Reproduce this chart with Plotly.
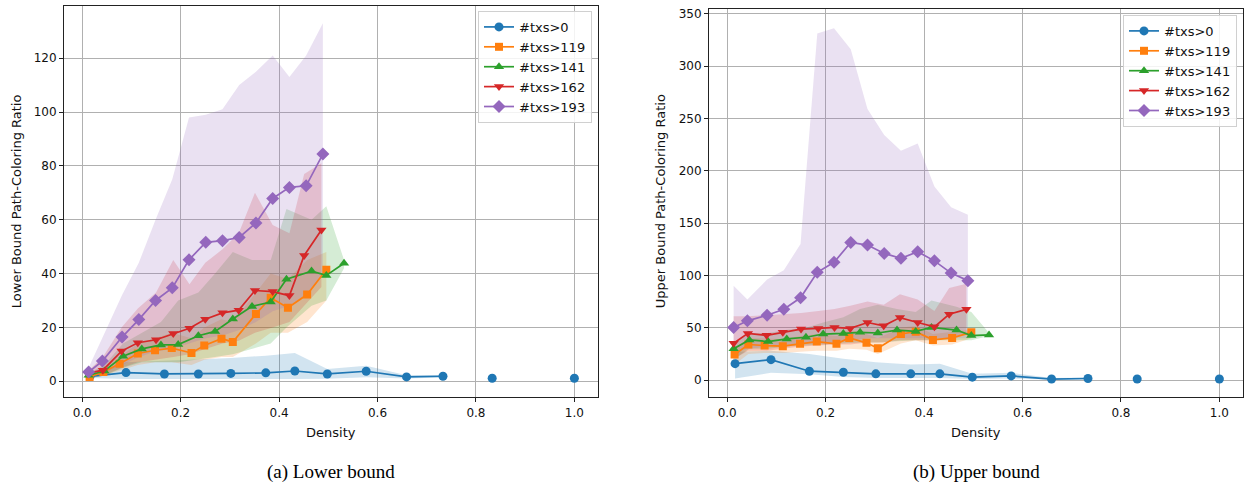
import plotly.graph_objects as go

# ---------------- data ----------------
SERIES = ["#txs>0", "#txs>119", "#txs>141", "#txs>162", "#txs>193"]
COLORS = ["#1f77b4", "#ff7f0e", "#2ca02c", "#d62728", "#9467bd"]
FILLS = ["rgba(31,119,180,0.2)", "rgba(255,127,14,0.2)", "rgba(44,160,44,0.2)",
         "rgba(214,39,40,0.2)", "rgba(148,103,189,0.2)"]
SYMBOLS = ["circle", "square", "triangle-up", "triangle-down", "diamond"]
SIZES = [9, 8, 9, 9, 10]

X_TICKS = [0.0, 0.2, 0.4, 0.6, 0.8, 1.0]
X_TICK_TEXT = ["0.0", "0.2", "0.4", "0.6", "0.8", "1.0"]
Y_TICKS_LOWER = [0, 20, 40, 60, 80, 100, 120]
Y_TICKS_UPPER = [0, 50, 100, 150, 200, 250, 300, 350]

# density bins of each series (None = no samples between neighbours)
dens_0 = [0.016, 0.089, 0.167, 0.236, 0.302, 0.373, 0.432, 0.498, 0.577, 0.659, 0.733, None, 0.833, None, 1.0]
dens_119 = [0.015, 0.043, 0.076, 0.113, 0.148, 0.182, 0.222, 0.248, 0.283, 0.306, 0.353, 0.383, 0.418, 0.457, 0.496]
dens_141 = [0.013, 0.045, 0.083, 0.121, 0.160, 0.195, 0.236, 0.270, 0.306, 0.345, 0.383, 0.415, 0.466, 0.496, 0.532]
dens_162 = [0.013, 0.042, 0.080, 0.113, 0.150, 0.185, 0.218, 0.250, 0.285, 0.318, 0.351, 0.387, 0.421, 0.451, 0.486]
dens_193 = [0.013, 0.041, 0.081, 0.115, 0.149, 0.183, 0.217, 0.251, 0.285, 0.319, 0.353, 0.387, 0.421, 0.455, 0.489]

# ----- lower bound ratio: mean, band low, band high -----
lb_mean_0 = [1.8, 3.2, 2.7, 2.7, 2.9, 3.1, 3.8, 2.7, 3.7, 1.6, 1.85, None, 1.1, None, 1.1]
lb_lo_0 = [1.2, 0.8, 0.8, 0.8, 0.8, 0.8, 0.8, 0.9, 1.5, 1.0, 1.4, None, None, None, None]
lb_hi_0 = [2.3, 7.0, 7.6, 8.0, 8.6, 9.5, 10.5, 4.5, 5.7, 2.2, 2.3, None, None, None, None]

lb_mean_119 = [1.6, 3.4, 6.5, 10.3, 11.5, 12.3, 10.5, 13.3, 15.8, 14.6, 25.0, 31.0, 27.3, 32.2, 41.4]
lb_lo_119 = [1.0, 2.0, 4.0, 6.0, 7.0, 7.0, 6.0, 8.0, 9.0, 9.0, 14.0, 18.0, 18.0, 22.0, 30.0]
lb_hi_119 = [2.5, 5.0, 9.0, 14.0, 16.0, 18.0, 16.0, 20.0, 23.0, 22.0, 33.0, 40.0, 38.0, 45.0, 48.0]

lb_mean_141 = [2.2, 3.8, 9.3, 12.0, 13.5, 13.6, 16.9, 18.5, 23.1, 27.8, 29.4, 37.9, 40.9, 39.3, 43.8]
lb_lo_141 = [1.5, 2.0, 5.0, 7.0, 7.0, 7.0, 8.0, 9.0, 10.0, 12.0, 14.0, 20.0, 28.0, 30.0, 42.0]
lb_hi_141 = [3.0, 6.0, 14.0, 18.0, 22.0, 30.0, 33.0, 40.0, 48.0, 45.0, 45.0, 64.0, 60.0, 65.0, 45.0]

lb_mean_162 = [3.0, 4.1, 11.2, 14.3, 15.4, 17.7, 19.7, 23.0, 25.4, 26.4, 33.7, 33.3, 31.8, 46.7, 56.2]
lb_lo_162 = [2.0, 2.0, 5.0, 7.0, 8.0, 9.0, 10.0, 12.0, 14.0, 15.0, 18.0, 20.0, 22.0, 28.0, 35.0]
lb_hi_162 = [4.0, 9.0, 20.0, 27.0, 33.0, 45.0, 36.0, 44.0, 49.0, 55.0, 70.0, 58.0, 55.0, 77.0, 81.0]

lb_mean_193 = [3.4, 7.5, 16.4, 22.9, 30.0, 34.7, 45.1, 51.6, 52.2, 53.4, 58.8, 67.9, 72.0, 72.6, 84.4]
lb_lo_193 = [2.0, 3.0, 6.0, 9.0, 11.0, 12.0, 14.0, 16.0, 17.0, 19.0, 22.0, 26.0, 28.0, 32.0, 40.0]
lb_hi_193 = [5.0, 16.0, 32.0, 44.0, 60.0, 75.0, 98.0, 99.0, 101.0, 110.0, 115.0, 121.0, 113.0, 121.0, 133.0]

# ----- upper bound ratio -----
ub_mean_0 = [15.7, 19.5, 8.5, 7.5, 6.0, 6.0, 6.0, 2.8, 4.0, 1.0, 1.5, None, 1.0, None, 1.0]
ub_lo_0 = [1.5, 7.0, 5.5, 3.0, 2.0, 2.0, 2.0, 1.0, 1.5, 0.5, 0.8, None, None, None, None]
ub_hi_0 = [27.0, 28.0, 25.0, 20.5, 17.0, 15.0, 15.7, 6.0, 7.0, 2.0, 2.5, None, None, None, None]

ub_mean_119 = [24.5, 34.0, 33.0, 32.4, 34.6, 36.8, 34.6, 40.3, 35.6, 30.5, 44.0, 46.2, 38.4, 40.3, 45.6]
ub_lo_119 = [15.0, 25.0, 26.0, 26.0, 27.0, 28.0, 28.0, 30.0, 29.0, 25.0, 35.0, 38.0, 33.0, 34.0, 40.0]
ub_hi_119 = [30.0, 40.0, 40.0, 39.0, 42.0, 44.0, 42.0, 48.0, 44.0, 40.0, 50.0, 52.0, 44.0, 46.0, 48.0]

ub_mean_141 = [29.9, 38.4, 36.8, 39.3, 40.9, 44.0, 44.6, 45.6, 45.0, 47.8, 46.5, 50.3, 47.8, 42.5, 43.1]
ub_lo_141 = [20.0, 30.0, 30.0, 32.0, 33.0, 34.0, 35.0, 36.0, 36.0, 37.0, 38.0, 38.0, 38.0, 38.0, 42.0]
ub_hi_141 = [35.0, 45.0, 45.0, 48.0, 50.0, 55.0, 60.0, 68.0, 72.0, 68.0, 65.0, 76.0, 70.0, 65.0, 45.0]

ub_mean_162 = [35.2, 44.6, 42.8, 45.6, 48.7, 49.4, 50.3, 49.4, 55.0, 51.9, 59.7, 55.0, 50.9, 62.9, 67.6]
ub_lo_162 = [20.0, 28.0, 28.0, 30.0, 32.0, 33.0, 34.0, 34.0, 36.0, 36.0, 38.0, 38.0, 38.0, 40.0, 45.0]
ub_hi_162 = [61.0, 61.0, 62.0, 63.0, 64.0, 66.0, 68.0, 71.0, 75.0, 72.0, 82.0, 77.0, 66.0, 88.0, 92.0]

ub_mean_193 = [50.3, 56.6, 62.0, 67.6, 78.6, 103.0, 112.5, 131.4, 129.0, 121.0, 116.3, 122.6, 113.9, 102.2, 95.0]
ub_lo_193 = [25.0, 30.0, 32.0, 33.0, 35.0, 35.0, 35.0, 38.0, 40.0, 40.0, 40.0, 40.0, 40.0, 40.0, 40.0]
ub_hi_193 = [90.0, 77.0, 96.0, 105.0, 130.0, 331.0, 336.0, 316.0, 259.0, 234.0, 219.0, 226.0, 185.0, 165.0, 158.0]

DENS = [dens_0, dens_119, dens_141, dens_162, dens_193]
LOWER = [(lb_mean_0, lb_lo_0, lb_hi_0), (lb_mean_119, lb_lo_119, lb_hi_119),
         (lb_mean_141, lb_lo_141, lb_hi_141), (lb_mean_162, lb_lo_162, lb_hi_162),
         (lb_mean_193, lb_lo_193, lb_hi_193)]
UPPER = [(ub_mean_0, ub_lo_0, ub_hi_0), (ub_mean_119, ub_lo_119, ub_hi_119),
         (ub_mean_141, ub_lo_141, ub_hi_141), (ub_mean_162, ub_lo_162, ub_hi_162),
         (ub_mean_193, ub_lo_193, ub_hi_193)]

# ---------------- figure ----------------
fig = go.Figure()


def band_polygon(xs, lo, hi):
    pts = [(x, l, h) for x, l, h in zip(xs, lo, hi) if x is not None and l is not None and h is not None]
    px = [p[0] for p in pts] + [p[0] for p in reversed(pts)]
    py = [p[2] for p in pts] + [p[1] for p in reversed(pts)]
    return px, py


def add_panel(stats, xref, yref, legend):
    # shaded spread first, then the mean lines on top
    for i, (mean, lo, hi) in enumerate(stats):
        px, py = band_polygon(DENS[i], lo, hi)
        fig.add_trace(go.Scatter(x=px, y=py, fill="toself", fillcolor=FILLS[i],
                                 line=dict(width=0), mode="lines", hoverinfo="skip",
                                 showlegend=False, xaxis=xref, yaxis=yref))
    for i, (mean, lo, hi) in enumerate(stats):
        fig.add_trace(go.Scatter(x=DENS[i], y=mean, name=SERIES[i], mode="lines+markers",
                                 line=dict(color=COLORS[i], width=1.7),
                                 marker=dict(symbol=SYMBOLS[i], size=SIZES[i], color=COLORS[i]),
                                 connectgaps=False, xaxis=xref, yaxis=yref, legend=legend))


add_panel(LOWER, "x", "y", "legend")
add_panel(UPPER, "x2", "y2", "legend2")

W, H = 1244, 487
FONT = "DejaVu Sans"

axis_common = dict(showgrid=True, gridcolor="#b0b0b0", gridwidth=0.8, zeroline=False,
                   showline=True, linecolor="#222222", linewidth=1, mirror=True,
                   ticks="outside", ticklen=4, tickcolor="#222222", tickwidth=1,
                   tickfont=dict(family=FONT, size=12, color="#111111"))

legend_common = dict(xanchor="right", yanchor="top", bgcolor="rgba(255,255,255,0.85)",
                     bordercolor="#d0d0d0", borderwidth=1, tracegroupgap=0,
                     font=dict(family=FONT, size=13, color="#111111"))

fig.update_layout(
    width=W, height=H, margin=dict(l=0, r=0, t=0, b=0),
    paper_bgcolor="white", plot_bgcolor="white",
    font=dict(family=FONT, size=12, color="#111111"),
    xaxis=dict(domain=[64 / W, 598 / W], range=[-0.037, 1.048], tickvals=X_TICKS,
               ticktext=X_TICK_TEXT, anchor="y", **axis_common),
    yaxis=dict(domain=[1 - 397 / H, 1 - 4 / H], range=[-6.0, 139.4], tickvals=Y_TICKS_LOWER,
               anchor="x", **axis_common),
    xaxis2=dict(domain=[709 / W, 1243 / W], range=[-0.037, 1.048], tickvals=X_TICKS,
                ticktext=X_TICK_TEXT, anchor="y2", **axis_common),
    yaxis2=dict(domain=[1 - 397 / H, 1 - 7 / H], range=[-16.5, 354.5], tickvals=Y_TICKS_UPPER,
                anchor="x2", **axis_common),
    legend=dict(x=592 / W, y=1 - 9 / H, **legend_common),
    legend2=dict(x=1237 / W, y=1 - 13 / H, **legend_common),
)


def label(text, px, py, size=13, family=FONT, angle=0, color="#111111"):
    return dict(text=text, x=px / W, y=1 - py / H, xref="paper", yref="paper",
                xanchor="center", yanchor="middle", showarrow=False, textangle=angle,
                font=dict(family=family, size=size, color=color))


fig.update_layout(annotations=[
    label("Density", 331, 432),
    label("Density", 976, 432),
    label("Lower Bound Path-Coloring Ratio", 16, 200, angle=-90),
    label("Upper Bound Path-Coloring Ratio", 660, 200, angle=-90),
    label("(a) Lower bound", 331, 472, size=19, family="Liberation Serif", color="#000000"),
    label("(b) Upper bound", 976, 472, size=19, family="Liberation Serif", color="#000000"),
])

fig.write_html("out.html")
